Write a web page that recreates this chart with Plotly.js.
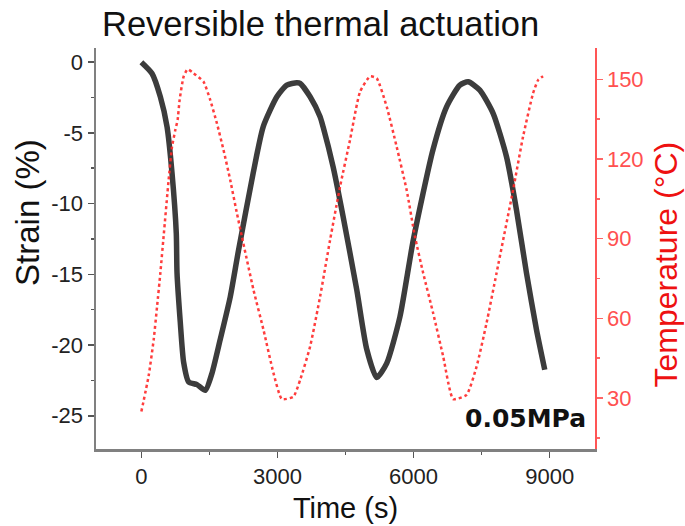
<!DOCTYPE html>
<html>
<head>
<meta charset="utf-8">
<script src="https://cdn.plot.ly/plotly-3.0.1.min.js"></script>
<style>html,body{margin:0;padding:0;background:#fff;}#chart{width:685px;height:526px;}</style>
</head>
<body>
<div id="chart"></div>
<script>
// Strain (%) vs time (s)
const strainTime = [0, 235, 418, 566, 676, 770, 786, 858, 931, 1041, 1226, 1409, 1556, 1739, 1959, 2142, 2465, 2685, 2987, 3207, 3427, 3500, 3720, 3940, 4006, 4226, 4446, 4748, 4968, 5188, 5408, 5700, 5993, 6427, 6728, 7021, 7204, 7461, 7754, 8049, 8269, 8489, 8709, 8892];
const strainVals = [0, -0.8, -2.45, -4.57, -7.86, -12.1, -14.9, -18.4, -21.2, -22.6, -22.8, -23.2, -22.0, -19.6, -16.6, -13.3, -7.84, -4.57, -2.45, -1.62, -1.46, -1.5, -2.45, -3.86, -4.57, -7.39, -10.9, -16.1, -20.3, -22.3, -21.3, -18.0, -12.6, -6.21, -3.16, -1.62, -1.39, -1.98, -3.62, -6.69, -10.45, -14.9, -18.9, -21.75];
// Temperature (°C) vs time (s)
const tempTime = [0, 161, 271, 346, 418, 491, 601, 676, 748, 799, 843, 931, 1019, 1151, 1371, 1519, 1666, 1811, 1959, 2106, 2216, 2472, 2692, 2912, 3097, 3352, 3500, 3720, 3940, 4160, 4380, 4600, 4820, 5040, 5188, 5408, 5628, 5848, 6031, 6213, 6433, 6654, 6874, 7169, 7389, 7609, 7829, 8194, 8414, 8634, 8745, 8855];
const tempVals = [24.9, 38.4, 51.9, 64.4, 77.0, 91.0, 112.1, 124.6, 130.9, 134.7, 142.2, 151.0, 153.8, 152.3, 149.1, 142.2, 133.4, 123.4, 112.1, 99.6, 90.8, 70.7, 55.7, 39.4, 29.6, 30.5, 36.8, 49.4, 68.2, 89.5, 109.6, 127.2, 145.3, 151.1, 150.4, 139.7, 124.6, 108.3, 90.8, 77.0, 61.9, 45.6, 29.6, 31.2, 41.8, 58.2, 77.0, 108.3, 128.4, 144.7, 149.7, 151.2];
const xTicks = [0, 3000, 6000, 9000];
const yTicks = [0, -5, -10, -15, -20, -25];
const y2Ticks = [30, 60, 90, 120, 150];

const font = "Liberation Sans, Arial, sans-serif";
const traces = [
  {x: strainTime, y: strainVals, type: 'scatter', mode: 'lines', line: {color: '#3c3c3c', width: 5.5, shape: 'spline', smoothing: 0.6}, yaxis: 'y', hoverinfo: 'skip'},
  {x: tempTime, y: tempVals, type: 'scatter', mode: 'lines', line: {color: 'rgba(255,40,40,0.9)', width: 2.5, dash: 'dot', shape: 'spline', smoothing: 0.5}, yaxis: 'y2', hoverinfo: 'skip'}
];
const layout = {
  width: 685, height: 526,
  margin: {l: 96, r: 90, t: 48, b: 77},
  paper_bgcolor: '#fff', plot_bgcolor: '#fff',
  showlegend: false,
  font: {family: font, color: '#222'},
  title: {text: 'Reversible thermal actuation', font: {family: font, size: 34.5, color: '#111'}, x: 0.468, xanchor: 'center', y: 0.978, yanchor: 'top'},
  xaxis: {
    range: [-1000, 10000], tickvals: xTicks, ticktext: xTicks.map(String),
    showgrid: false, zeroline: false, showline: true, linecolor: '#808080', linewidth: 2.5,
    ticks: 'outside', ticklen: 6, tickwidth: 1.5, tickcolor: '#555',
    minor: {tickvals: [1500, 4500, 7500], ticks: 'outside', ticklen: 3, tickwidth: 1.5, tickcolor: '#555'},
    tickfont: {family: font, size: 22, color: '#222'},
    title: {text: 'Time (s)', font: {family: font, size: 29, color: '#111'}, standoff: 10}
  },
  yaxis: {
    range: [-27.35, 1], tickvals: yTicks, ticktext: yTicks.map(String),
    showgrid: false, zeroline: false, showline: true, linecolor: '#808080', linewidth: 2.5,
    ticks: 'outside', ticklen: 6, tickwidth: 1.5, tickcolor: '#555',
    minor: {tickvals: [-2.5, -7.5, -12.5, -17.5, -22.5], ticks: 'outside', ticklen: 3, tickwidth: 1.5, tickcolor: '#555'},
    tickfont: {family: font, size: 22, color: '#222'}
  },
  yaxis2: {
    overlaying: 'y', side: 'right', anchor: 'x',
    range: [10.8, 161.8], tickvals: y2Ticks, ticktext: y2Ticks.map(String),
    showgrid: false, zeroline: false, showline: true, linecolor: '#ff5555', linewidth: 1.5,
    ticks: 'outside', ticklen: 6, tickwidth: 1.5, tickcolor: '#ff6666',
    minor: {tickvals: [15, 45, 75, 105, 135], ticks: 'outside', ticklen: 3, tickwidth: 1.5, tickcolor: '#ff6666'},
    tickfont: {family: font, size: 22, color: '#ff5050'}
  },
  annotations: [
    {text: 'Strain (%)', textangle: -90, xref: 'paper', yref: 'paper', x: -0.1373, y: 0.59, xanchor: 'center', yanchor: 'middle',
     showarrow: false, font: {family: font, size: 33, color: '#111'}},
    {text: 'Temperature (°C)', textangle: -90, xref: 'paper', yref: 'paper', x: 1.1423, y: 0.46, xanchor: 'center', yanchor: 'middle',
     showarrow: false, font: {family: font, size: 32, color: '#ee1111'}},
    {text: '<b>0.05MPa</b>', xref: 'paper', yref: 'paper', x: 0.986, y: 0.035, xanchor: 'right', yanchor: 'bottom',
     showarrow: false, font: {family: 'DejaVu Sans, sans-serif', size: 25, color: '#111'}}
  ]
};
Plotly.newPlot('chart', traces, layout, {displayModeBar: false, staticPlot: true});
</script>
</body>
</html>
